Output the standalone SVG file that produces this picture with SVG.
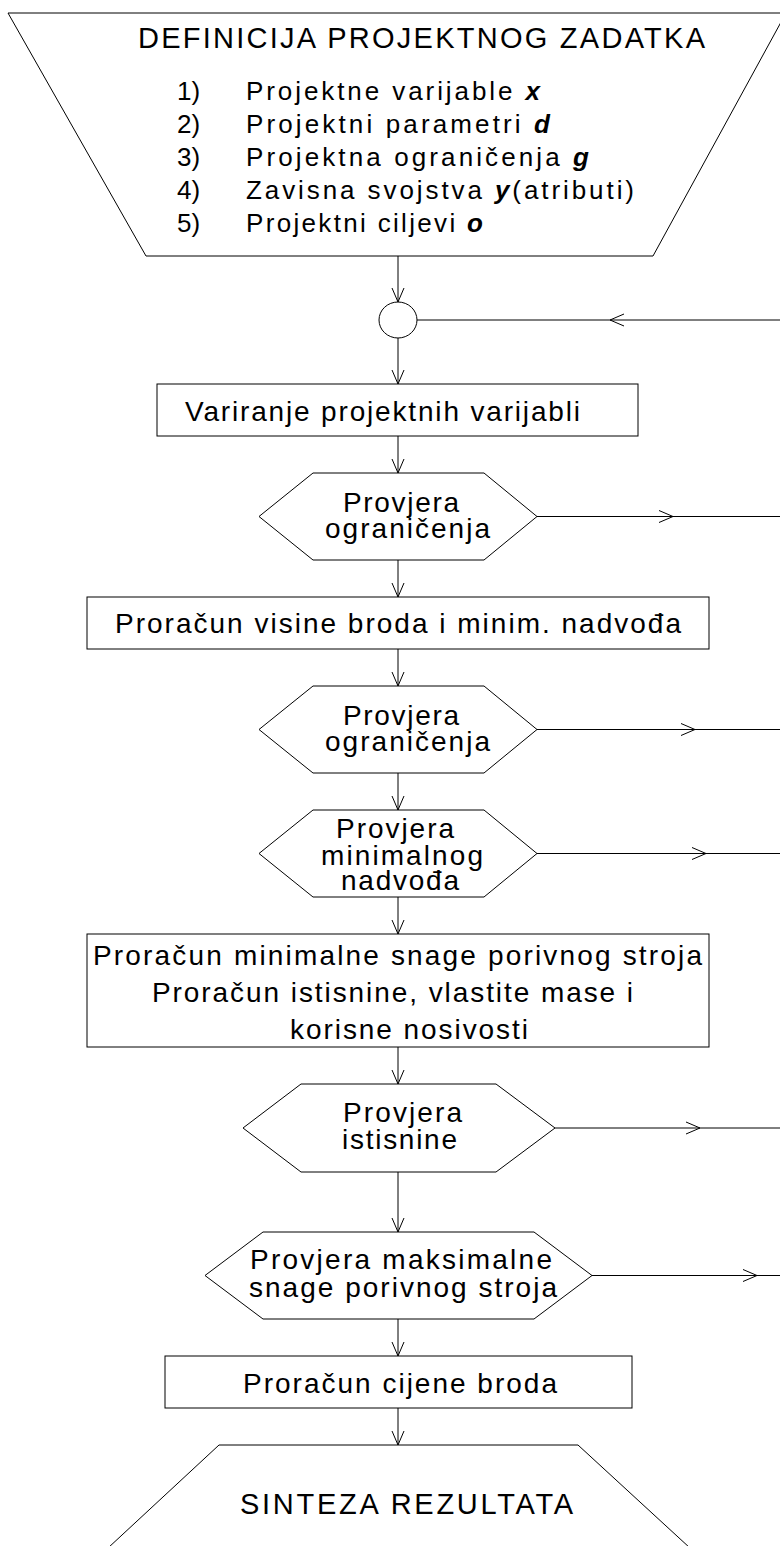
<svg xmlns="http://www.w3.org/2000/svg" width="780" height="1546" viewBox="0 0 780 1546">
<style>
.shape{fill:#fff;stroke:#000;stroke-width:1}
.conn{fill:none;stroke:#000;stroke-width:1}
text{font-family:"Liberation Sans",Arial,sans-serif;fill:#000}
.t{font-size:28px}
.h{font-size:29px}
.l{font-size:26px}
.v{font-weight:bold;font-style:italic}
</style>
<defs>
<marker id="ah" viewBox="0 0 16 14" refX="15" refY="7" markerWidth="16" markerHeight="14" markerUnits="userSpaceOnUse" orient="auto" overflow="visible">
<path d="M1,1 L15,7 L1,13" fill="none" stroke="#000" stroke-width="1"/>
</marker>
</defs>
<rect width="780" height="1546" fill="#fff"/>

<g id="start">
<polygon class="shape" points="8,13 786,13 653,256 146,256"/>
<text class="h" x="138" y="48" textLength="567" lengthAdjust="spacing">DEFINICIJA PROJEKTNOG ZADATKA</text>
<text class="l" x="177" y="100">1)</text>
<text class="l" x="246" y="100" textLength="294" lengthAdjust="spacing">Projektne varijable <tspan class="v">x</tspan></text>
<text class="l" x="177" y="133">2)</text>
<text class="l" x="246" y="133" textLength="304" lengthAdjust="spacing">Projektni parametri <tspan class="v">d</tspan></text>
<text class="l" x="177" y="166">3)</text>
<text class="l" x="246" y="166" textLength="343" lengthAdjust="spacing">Projektna ograničenja <tspan class="v">g</tspan></text>
<text class="l" x="177" y="199">4)</text>
<text class="l" x="246" y="199" textLength="388" lengthAdjust="spacing">Zavisna svojstva <tspan class="v">y</tspan>(atributi)</text>
<text class="l" x="177" y="232">5)</text>
<text class="l" x="246" y="232" textLength="237" lengthAdjust="spacing">Projektni ciljevi <tspan class="v">o</tspan></text>
</g>

<g id="join">
<ellipse class="shape" cx="398" cy="320" rx="19" ry="18"/>
</g>

<g id="variranje">
<rect class="shape" x="157" y="384" width="481" height="52"/>
<text class="t" x="185" y="421" textLength="395" lengthAdjust="spacing">Variranje projektnih varijabli</text>
</g>

<g id="provjera1">
<polygon class="shape" points="259,516.5 313,473 484,473 537,516.5 484,560 313,560"/>
<text class="t" x="343" y="512" textLength="116" lengthAdjust="spacing">Provjera</text>
<text class="t" x="325" y="538" textLength="165" lengthAdjust="spacing">ograničenja</text>
</g>

<g id="visina">
<rect class="shape" x="87" y="597" width="622" height="52"/>
<text class="t" x="115" y="633" textLength="566" lengthAdjust="spacing">Proračun visine broda i minim. nadvođa</text>
</g>

<g id="provjera2">
<polygon class="shape" points="259,729.5 313,686 484,686 537,729.5 484,773 313,773"/>
<text class="t" x="343" y="725" textLength="116" lengthAdjust="spacing">Provjera</text>
<text class="t" x="325" y="751" textLength="165" lengthAdjust="spacing">ograničenja</text>
</g>

<g id="provjera3">
<polygon class="shape" points="259,853.5 313,810 484,810 537,853.5 484,897 313,897"/>
<text class="t" x="336" y="838" textLength="118" lengthAdjust="spacing">Provjera</text>
<text class="t" x="321" y="865" textLength="162" lengthAdjust="spacing">minimalnog</text>
<text class="t" x="341" y="890" textLength="118" lengthAdjust="spacing">nadvođa</text>
</g>

<g id="snaga">
<rect class="shape" x="87" y="934" width="622" height="113"/>
<text class="t" x="93" y="965" textLength="609" lengthAdjust="spacing">Proračun minimalne snage porivnog stroja</text>
<text class="t" x="152" y="1002" textLength="481" lengthAdjust="spacing">Proračun istisnine, vlastite mase i</text>
<text class="t" x="290" y="1039" textLength="238" lengthAdjust="spacing">korisne nosivosti</text>
</g>

<g id="provjera4">
<polygon class="shape" points="243,1128 301,1084 496,1084 555,1128 496,1172 301,1172"/>
<text class="t" x="343" y="1122" textLength="119" lengthAdjust="spacing">Provjera</text>
<text class="t" x="342" y="1149" textLength="115" lengthAdjust="spacing">istisnine</text>
</g>

<g id="provjera5">
<polygon class="shape" points="205,1275.5 263,1232 534,1232 592,1275.5 534,1319 263,1319"/>
<text class="t" x="250" y="1269" textLength="302" lengthAdjust="spacing">Provjera maksimalne</text>
<text class="t" x="249" y="1297" textLength="308" lengthAdjust="spacing">snage porivnog stroja</text>
</g>

<g id="cijena">
<rect class="shape" x="165" y="1356" width="467" height="52"/>
<text class="t" x="243" y="1393" textLength="314" lengthAdjust="spacing">Proračun cijene broda</text>
</g>

<g id="sinteza">
<path class="shape" d="M108,1548 L219,1445 L578,1445 L690,1548"/>
<text class="h" x="240" y="1514" textLength="333" lengthAdjust="spacing">SINTEZA REZULTATA</text>
</g>

<g id="connectors">
<path class="conn" marker-end="url(#ah)" d="M398,256 V302"/>
<path class="conn" marker-end="url(#ah)" d="M398,338 V384"/>
<path class="conn" marker-end="url(#ah)" d="M398,436 V473"/>
<path class="conn" marker-end="url(#ah)" d="M398,560 V597"/>
<path class="conn" marker-end="url(#ah)" d="M398,649 V686"/>
<path class="conn" marker-end="url(#ah)" d="M398,773 V810"/>
<path class="conn" marker-end="url(#ah)" d="M398,897 V934"/>
<path class="conn" marker-end="url(#ah)" d="M398,1047 V1084"/>
<path class="conn" marker-end="url(#ah)" d="M398,1172 V1232"/>
<path class="conn" marker-end="url(#ah)" d="M398,1319 V1356"/>
<path class="conn" marker-end="url(#ah)" d="M398,1408 V1445"/>
<polyline class="conn" marker-mid="url(#ah)" points="780,320 610,320 417,320"/>
<polyline class="conn" marker-mid="url(#ah)" points="537,516.5 673,516.5 780,516.5"/>
<polyline class="conn" marker-mid="url(#ah)" points="537,729.5 695,729.5 780,729.5"/>
<polyline class="conn" marker-mid="url(#ah)" points="537,853.5 706,853.5 780,853.5"/>
<polyline class="conn" marker-mid="url(#ah)" points="555,1128 700,1128 780,1128"/>
<polyline class="conn" marker-mid="url(#ah)" points="592,1275.5 757,1275.5 780,1275.5"/>
</g>
</svg>
